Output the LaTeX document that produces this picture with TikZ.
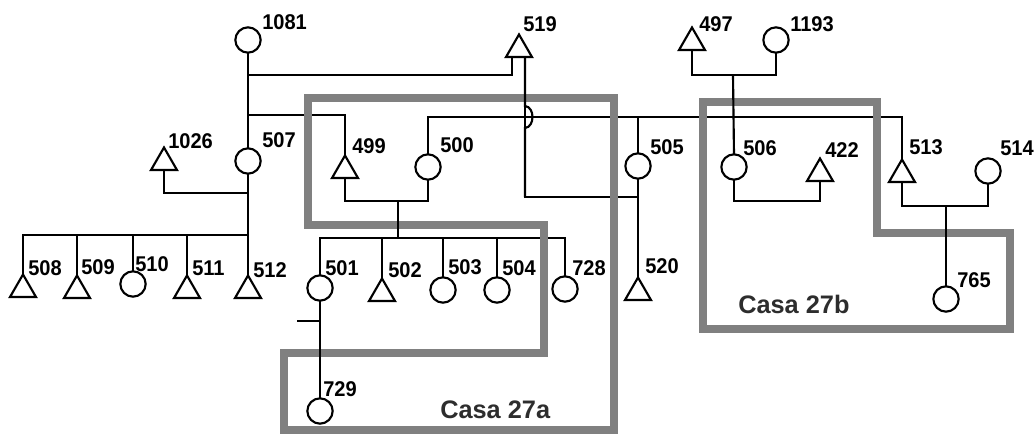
\documentclass[tikz,border=0pt]{standalone}
\usepackage{fontspec}
\setmainfont{Liberation Sans}
\newfontfamily\lblfont{Liberation Sans}[FakeStretch=0.94]
\usetikzlibrary{shapes.geometric,calc}
\definecolor{boxgray}{RGB}{128,128,128}
\definecolor{casatext}{RGB}{45,45,45}
\begin{document}
\begin{tikzpicture}[x=0.75pt,y=-0.75pt,
  fem/.style={circle,draw,minimum size=19pt,inner sep=0pt,outer sep=0pt,line width=1.6pt},
  mal/.style={regular polygon,regular polygon sides=3,draw,minimum size=22.5pt,inner sep=0pt,outer sep=0pt,anchor=south,line width=1.6pt},
  lbl/.style={anchor=base west,inner sep=0pt,font=\lblfont\bfseries\fontsize{16}{16}\selectfont},
  casa/.style={anchor=base west,inner sep=0pt,text=casatext,font=\bfseries\fontsize{19}{19}\selectfont},
  house/.style={draw=boxgray,line width=5.3pt,line join=miter},
  link/.style={draw,line width=1.6pt}]
\useasboundingbox (0,0) rectangle (1036,435);

% ---- individuals
\node[fem] (c1081) at (248,40) {};
\node[mal] (t519) at (519,57) {};
\node[fem] (c507) at (248,161) {};
\node[mal] (t1026) at (164,170) {};
\node[mal] (t499) at (345,178) {};
\node[fem] (c500) at (428,167) {};
\node[fem] (c505) at (638,166) {};
\node[mal] (t520) at (638,300) {};
\node[mal] (t497) at (692,50) {};
\node[fem] (c1193) at (776,40) {};
\node[fem] (c506) at (734,167) {};
\node[mal] (t422) at (820,181) {};
\node[mal] (t513) at (902,182) {};
\node[fem] (c514) at (988,171) {};
\node[fem] (c765) at (946,299) {};
\node[mal] (t508) at (23,297) {};
\node[mal] (t509) at (77,298) {};
\node[fem] (c510) at (133,284) {};
\node[mal] (t511) at (187,298) {};
\node[mal] (t512) at (248,298) {};
\node[fem] (c501) at (320,288) {};
\node[mal] (t502) at (382,301) {};
\node[fem] (c503) at (443,290) {};
\node[fem] (c504) at (497,290) {};
\node[fem] (c728) at (565,289) {};
\node[fem] (c729) at (320,411) {};

% ---- junction points
\coordinate (m1081) at (248,75);
\coordinate (s1081) at (248,115);
\coordinate (h1) at (638,117);
\coordinate (j505) at (638,197);
\coordinate (j1026) at (248,193);
\coordinate (s507) at (248,235);
\coordinate (m499) at (398,201);
\coordinate (s500) at (398,238);
\coordinate (tick) at (297,321);
\coordinate (m497) at (733,75);
\coordinate (m506) at (778,201);
\coordinate (m513) at (946,206);

% ---- connectors under the house outlines
\draw[link] (m1081) -| ($(t519.south)+(-7,0)$);
\draw[link] (s1081) -| (t499.north);
\draw[link] (c500.north) |- (h1) -| (t513.north);
\draw[link] (c505.north) -- (h1);
\draw[link] (c505.south) -- (t520.north);
\draw[link] (t1026.south) |- (j1026);
\draw[link] (t508.north) |- (s507);
\draw[link] (t509.north) -- (t509.north |- s507);
\draw[link] (c510.north) -- (c510.north |- s507);
\draw[link] (t511.north) -- (t511.north |- s507);
\draw[link] (t512.north) -- (s507);
\draw[link] (c1081.south) -- (c507.north);
\draw[link] (c507.south) -- (s507);
\draw[link] (t499.south) |- (m499) -| (c500.south);
\draw[link] (c501.north) |- (s500) -| (c728.north);
\draw[link] (t502.north) -- (t502.north |- s500);
\draw[link] (c503.north) -- (c503.north |- s500);
\draw[link] (c504.north) -- (c504.north |- s500);
\draw[link] (c506.south) |- (m506) -| (t422.south);
\draw[link] (t497.south) |- (m497) -| (c1193.south);
\draw[link] (t513.south) |- (m513) -| (c514.south);
\draw[link] (j505) -| ($(t519.south)+(6,0)$);

% ---- houses
\draw[house] (308,98) -- (614,98) -- (614,430) -- (284,430) -- (284,353)
  -- (544,353) -- (544,225) -- (308,225) -- cycle;
\draw[house] (703,102) -- (877,102) -- (877,233) -- (1010,233) -- (1010,329)
  -- (703,329) -- cycle;

% ---- descent lines drawn over the house outlines
\draw[link] ($(t519.south)+(6,0)$) -- (525,106)
  .. controls (535,107) and (535,127) .. (525,128) -- (525,197);
\draw[link] (m499) -- (s500);
\draw[link] (c501.south) -- (c729.north);
\draw[link] (tick) -- (tick -| c501);
\draw[link] (m497) -- (c506.north);
\draw[link] (m513) -- (c765.north);

% ---- labels
\node[lbl] (l1081) at (262,30) {1081};
\node[lbl] (l519) at (523,32) {519};
\node[lbl] (l507) at (262,147) {507};
\node[lbl] (l1026) at (168,148) {1026};
\node[lbl] (l499) at (352,153) {499};
\node[lbl] (l500) at (440,152) {500};
\node[lbl] (l505) at (650,154) {505};
\node[lbl] (l497) at (699,32) {497};
\node[lbl] (l1193) at (790,32) {1193};
\node[lbl] (l506) at (743,156) {506};
\node[lbl] (l422) at (825,157) {422};
\node[lbl] (l513) at (909,155) {513};
\node[lbl] (l514) at (1000,156) {514};
\node[lbl] (l508) at (28,275) {508};
\node[lbl] (l509) at (81,274) {509};
\node[lbl] (l510) at (135,271) {510};
\node[lbl] (l511) at (192,275) {511};
\node[lbl] (l512) at (253,277) {512};
\node[lbl] (l501) at (325,275) {501};
\node[lbl] (l502) at (388,277) {502};
\node[lbl] (l503) at (448,274) {503};
\node[lbl] (l504) at (502,275) {504};
\node[lbl] (l728) at (572,275) {728};
\node[lbl] (l520) at (645,273) {520};
\node[lbl] (l729) at (323,396) {729};
\node[lbl] (l765) at (957,287) {765};
\node[casa] (casaA) at (440,418) {Casa 27a};
\node[casa] (casaB) at (738,313) {Casa 27b};
\end{tikzpicture}
\end{document}
